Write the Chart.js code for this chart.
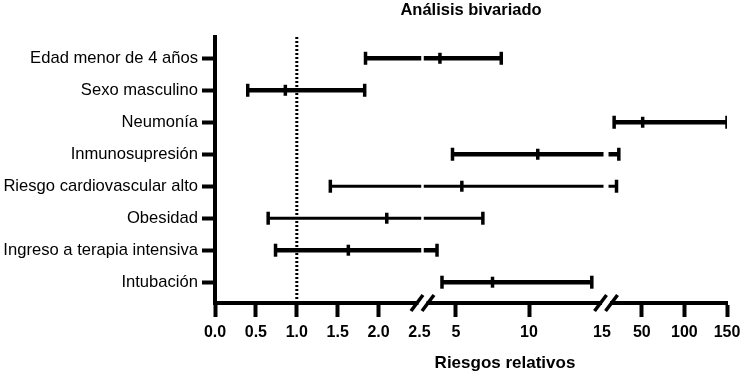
<!DOCTYPE html>
<html>
<head>
<meta charset="utf-8">
<script src="https://cdn.jsdelivr.net/npm/chart.js@4/dist/chart.umd.min.js"></script>
<style>
    body { margin: 0; background: #fff; }
    #chart-wrap { width: 740px; height: 374px; }
</style>
</head>
<body>
<div id="chart-wrap"><canvas id="forestChart" width="740" height="374"></canvas></div>
<script>
// Data
const categories = [
    "Edad menor de 4 años",
    "Sexo masculino",
    "Neumonía",
    "Inmunosupresión",
    "Riesgo cardiovascular alto",
    "Obesidad",
    "Ingreso a terapia intensiva",
    "Intubación"
];
const relativeRisk = [3.9, 0.86, 51, 10.6, 5.4, 2.1, 1.63, 7.5];
const lowerCI = [1.84, 0.40, 17.5, 4.76, 1.41, 0.65, 0.74, 4.04];
const upperCI = [8.1, 1.83, 150, 23, 20.3, 6.84, 3.7, 14.3];
const referenceValue = 1.0;

const xTickValues = [0, 0.5, 1, 1.5, 2, 2.5, 5, 10, 15, 50, 100, 150];
const xTickLabels = ["0.0", "0.5", "1.0", "1.5", "2.0", "2.5", "5", "10", "15", "50", "100", "150"];
const hiddenTickValues = [2.5, 15];

// Broken axis: each segment takes a share of the axis width
const axisSegments = [
    { from: 0, to: 2.5, start: 0, end: 0.3994 },
    { from: 2.5, to: 15, start: 0.3994, end: 0.7559 },
    { from: 15, to: 150, start: 0.7754, end: 1 }
];

// Line widths per row (two rows are drawn thinner in the original)
const rowLineWidths = [4.5, 4.5, 4.5, 4.5, 3, 3, 4.5, 4.5];

const yMin = 0.335;
const yMax = 8.65;
const fontFamily = "'Liberation Sans', Arial, sans-serif";

class BrokenLinearScale extends Chart.LinearScale {
    getPixelForValue(value) {
        let seg = axisSegments[axisSegments.length - 1];
        for (const s of axisSegments) {
            if (value <= s.to) { seg = s; break; }
        }
        const t = (value - seg.from) / (seg.to - seg.from);
        return this.getPixelForDecimal(seg.start + t * (seg.end - seg.start));
    }
    getValueForPixel(pixel) {
        const d = this.getDecimalForPixel(pixel);
        for (const s of axisSegments) {
            if (d <= s.end) {
                return s.from + (d - s.start) / (s.end - s.start) * (s.to - s.from);
            }
        }
        return this.max;
    }
}
BrokenLinearScale.id = "brokenLinear";
BrokenLinearScale.defaults = Chart.LinearScale.defaults;
Chart.register(BrokenLinearScale);

// white gaps through the lines and "//" marks on the axis
const axisBreaks = {
    id: "axisBreaks",
    breakCenters(chart) {
        const x = chart.scales.x;
        const a = x.getPixelForValue(2.5);
        const b = x.getPixelForValue(15);
        return [a + 3, b + 4];
    },
    afterDatasetsDraw(chart) {
        const { ctx, chartArea } = chart;
        ctx.save();
        ctx.fillStyle = "#fff";
        this.breakCenters(chart).forEach((c, i) => {
            const w = i === 0 ? 2.5 : 5;
            ctx.fillRect(c - w / 2, chartArea.top, w, chartArea.bottom - chartArea.top - 3);
        });
        ctx.restore();
    },
    afterDraw(chart) {
        const { ctx, chartArea } = chart;
        const y = chartArea.bottom;
        ctx.save();
        this.breakCenters(chart).forEach(c => {
            ctx.fillStyle = "#fff";
            ctx.fillRect(c - 4, y - 3, 8, 6);
            ctx.strokeStyle = "#000";
            ctx.lineWidth = 3.5;
            [-5.5, 5.5].forEach(off => {
                ctx.beginPath();
                ctx.moveTo(c + off - 6, y + 8);
                ctx.lineTo(c + off + 6, y - 8);
                ctx.stroke();
            });
        });
        // x axis title
        ctx.fillStyle = "#000";
        ctx.font = "bold 17px " + fontFamily;
        ctx.textAlign = "center";
        ctx.textBaseline = "middle";
        ctx.fillText("Riesgos relativos", 505, 363);
        ctx.restore();
    }
};

Chart.defaults.color = "#000";
Chart.defaults.font.family = fontFamily;

const rowIndex = categories.map((c, i) => i + 1);

const ciDatasets = categories.map((cat, i) => ({
    label: cat,
    data: [{ x: lowerCI[i], y: rowIndex[i] }, { x: upperCI[i], y: rowIndex[i] }],
    showLine: true,
    borderColor: "#000",
    borderWidth: rowLineWidths[i],
    borderCapStyle: "butt",
    pointRadius: 0
}));

const capPoints = [];
categories.forEach((cat, i) => {
    capPoints.push({ x: lowerCI[i], y: rowIndex[i] });
    capPoints.push({ x: upperCI[i], y: rowIndex[i] });
});

new Chart(document.getElementById("forestChart").getContext("2d"), {
    type: "scatter",
    data: {
        datasets: [
            {
                label: "Referencia",
                data: [{ x: referenceValue, y: yMin }, { x: referenceValue, y: yMax }],
                showLine: true,
                borderColor: "#000",
                borderWidth: 3,
                borderDash: [2, 2],
                pointRadius: 0
            },
            ...ciDatasets,
            {
                label: "Límites",
                data: capPoints,
                pointStyle: "line",
                rotation: 90,
                radius: 6.5,
                borderWidth: 3.5,
                borderColor: "#000"
            },
            {
                label: "Riesgo relativo",
                data: relativeRisk.map((v, i) => ({ x: v, y: rowIndex[i] })),
                pointStyle: "line",
                rotation: 90,
                radius: 5.5,
                borderWidth: 3.5,
                borderColor: "#000"
            }
        ]
    },
    options: {
        responsive: false,
        devicePixelRatio: 1,
        animation: false,
        layout: { padding: { left: 0, right: 0, top: 0, bottom: 0 } },
        plugins: {
            legend: { display: false },
            tooltip: { enabled: false },
            title: {
                display: true,
                text: "Análisis bivariado",
                fullSize: false,
                color: "#000",
                font: { size: 16.5, weight: "bold" },
                padding: { top: 1, bottom: 16.2 }
            }
        },
        scales: {
            x: {
                type: "brokenLinear",
                min: 0,
                max: 150,
                afterBuildTicks: scale => {
                    scale.ticks = xTickValues.map(v => ({ value: v }));
                },
                afterFit: scale => {
                    scale.height = 71;
                    scale.paddingRight = 13;
                },
                ticks: {
                    autoSkip: false,
                    maxRotation: 0,
                    padding: 6,
                    font: { size: 16, weight: "bold" },
                    callback: (value, index) => xTickLabels[index]
                },
                grid: {
                    drawOnChartArea: false,
                    tickLength: 14,
                    tickWidth: 4,
                    tickColor: ctx => hiddenTickValues.includes(ctx.tick && ctx.tick.value) ? "rgba(0,0,0,0)" : "#000"
                },
                border: { display: true, color: "#000", width: 4 }
            },
            y: {
                type: "linear",
                reverse: true,
                min: yMin,
                max: yMax,
                afterBuildTicks: scale => {
                    scale.ticks = rowIndex.map(v => ({ value: v }));
                },
                afterFit: scale => { scale.width = 215; },
                ticks: {
                    autoSkip: false,
                    padding: 4,
                    font: { size: 16.6 },
                    callback: value => categories[value - 1]
                },
                grid: {
                    drawOnChartArea: false,
                    tickLength: 13,
                    tickWidth: 4,
                    tickColor: "#000"
                },
                border: { display: true, color: "#000", width: 4 }
            }
        }
    },
    plugins: [axisBreaks]
});
</script>
</body>
</html>
